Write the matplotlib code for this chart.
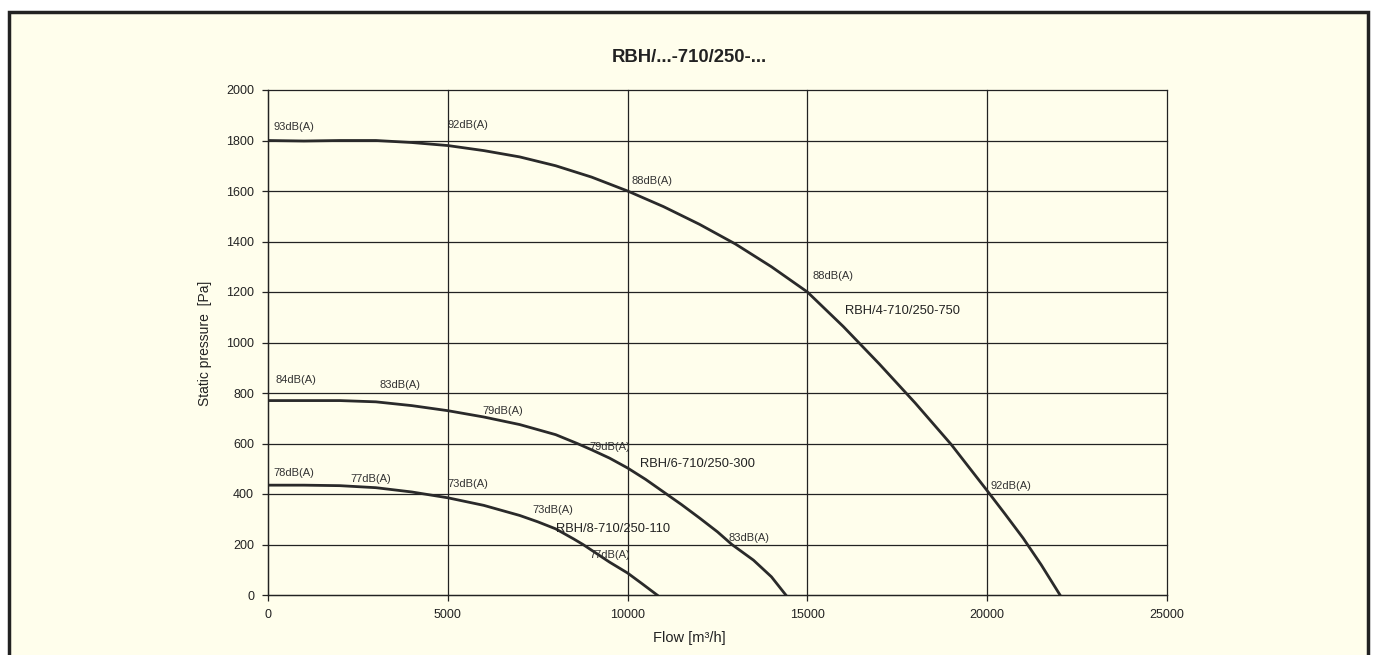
import matplotlib.pyplot as plt
from matplotlib.patches import Rectangle

plt.rcParams['font.family'] = ['Liberation Sans', 'DejaVu Sans']

# curves
flow_4 = [0, 1000, 2000, 3000, 4000, 5000, 6000, 7000, 8000, 9000, 10000, 11000, 12000,
          13000, 14000, 15000, 16000, 17000, 18000, 19000, 20000, 20500, 21000, 21500, 22025]
pres_4 = [1800, 1798, 1800, 1800, 1792, 1780, 1760, 1735, 1700, 1655, 1600, 1538, 1468,
          1390, 1300, 1200, 1063, 915, 760, 596, 413, 320, 225, 120, 0]

flow_6 = [0, 1000, 2000, 3000, 4000, 5000, 6000, 7000, 8000, 8600, 9000, 9500, 10000,
          10500, 11000, 11500, 12000, 12500, 12900, 13500, 14000, 14400]
pres_6 = [770, 770, 770, 765, 750, 730, 705, 675, 635, 600, 575, 542, 503, 458, 408,
          358, 305, 250, 200, 138, 72, 0]

flow_8 = [0, 1000, 2000, 3000, 4000, 5000, 6000, 7000, 7500, 8000, 8500, 8760, 9500,
          10000, 10400, 10820]
pres_8 = [435, 435, 433, 425, 408, 385, 355, 315, 290, 262, 222, 200, 130, 87, 45, 0]

# sound level labels (x, y, text)
db_labels = [
    (150, 1855, "93dB(A)"), (5000, 1860, "92dB(A)"), (10100, 1640, "88dB(A)"),
    (15150, 1265, "88dB(A)"), (20100, 430, "92dB(A)"),
    (200, 850, "84dB(A)"), (3100, 830, "83dB(A)"), (5950, 730, "79dB(A)"),
    (8950, 585, "79dB(A)"), (12800, 225, "83dB(A)"),
    (150, 485, "78dB(A)"), (2300, 460, "77dB(A)"), (5000, 440, "73dB(A)"),
    (7350, 335, "73dB(A)"), (8950, 160, "77dB(A)"),
]
model_labels = [
    (16050, 1125, "RBH/4-710/250-750"),
    (10350, 520, "RBH/6-710/250-300"),
    (8000, 260, "RBH/8-710/250-110"),
]

W, H = 1377, 655
bg = '#fffeec'
fig = plt.figure(figsize=(W / 100, H / 100), dpi=100)
fig.patch.set_facecolor('white')
frame = Rectangle((9 / W, -0.02), 1359 / W, 1 - 12 / H + 0.02,
                  transform=fig.transFigure, facecolor=bg,
                  edgecolor='#222222', linewidth=2.5, zorder=-10)
fig.add_artist(frame)

ax = fig.add_axes([268 / W, 60 / H, 899 / W, 505 / H])
ax.set_facecolor(bg)

lc = '#2a2a2a'
ax.plot(flow_4, pres_4, color=lc, lw=2)
ax.plot(flow_6, pres_6, color=lc, lw=2)
ax.plot(flow_8, pres_8, color=lc, lw=2)

for x, y, t in db_labels:
    ax.text(x, y, t, fontsize=8, color='#333333', ha='left', va='center')
for x, y, t in model_labels:
    ax.text(x, y, t, fontsize=9.3, color='#222222', ha='left', va='center')

ax.set_xlim(0, 25000)
ax.set_ylim(0, 2000)
ax.set_xticks(range(0, 25001, 5000))
ax.set_yticks(range(0, 2001, 200))
ax.grid(True, color='#222222', lw=0.9)
ax.set_axisbelow(True)
for gl in ax.get_xgridlines() + ax.get_ygridlines():
    gl.set_clip_on(False)
for s in ['top', 'right']:
    ax.spines[s].set_visible(False)
for s in ['left', 'bottom']:
    ax.spines[s].set_color('#222222')
    ax.spines[s].set_linewidth(0.9)
ax.tick_params(direction='out', length=4, width=0.9, labelsize=9, colors='#222222', pad=6)

fig.text(689.5 / W, 1 - 57 / H, "RBH/...-710/250-...", fontsize=13.3, fontweight='bold',
         color='#222222', ha='center', va='center')
fig.text(689 / W, 1 - 638 / H, "Flow [m³/h]", fontsize=10.5, color='#222222',
         ha='center', va='center')
fig.text(205 / W, 1 - 343 / H, "Static pressure  [Pa]", fontsize=10, color='#222222',
         ha='center', va='center', rotation=90)

fig.savefig("out.png", dpi=100, facecolor=fig.get_facecolor())
